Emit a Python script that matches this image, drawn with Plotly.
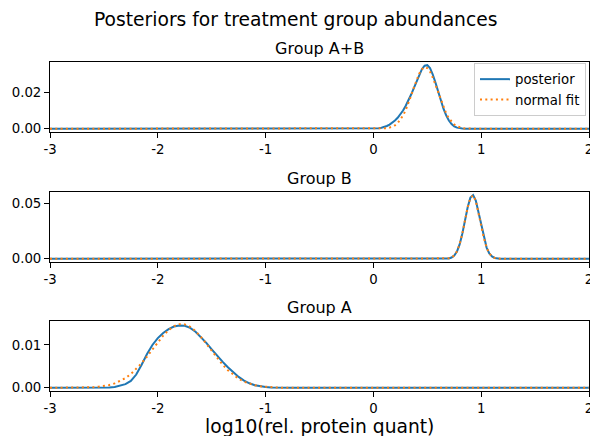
import plotly.graph_objects as go

# ---------------- data ----------------
SUPTITLE = "Posteriors for treatment group abundances"
GROUP_NAMES = ["Group A+B", "Group B", "Group A"]
X_LABEL = "log10(rel. protein quant)"
X_TICKS = [-3, -2, -1, 0, 1, 2]
X_TICK_LABELS = ["-3", "-2", "-1", "0", "1", "2"]
Y_TICKS = [[0.0, 0.02], [0.0, 0.05], [0.0, 0.01]]

AB_X = [-3.0, -0.10, -0.05, 0.000, 0.025, 0.050, 0.075, 0.100, 0.125, 0.150, 0.175,
        0.200, 0.225, 0.250, 0.275, 0.300, 0.325, 0.350, 0.375, 0.400, 0.425,
        0.450, 0.475, 0.500, 0.525, 0.550, 0.575, 0.600, 0.625, 0.650, 0.675,
        0.700, 0.725, 0.750, 0.775, 0.800, 0.825, 0.850, 0.875, 0.900, 0.950,
        1.000, 2.0]
AB_POSTERIOR = [0.0, 0.0, 0.00002, 0.00008, 0.00018, 0.00035, 0.00062, 0.00100, 0.00155,
                0.00230, 0.00330, 0.00460, 0.00610, 0.00790, 0.01010, 0.01270,
                0.01560, 0.01890, 0.02240, 0.02620, 0.02980, 0.03290, 0.03480,
                0.03510, 0.03350, 0.03010, 0.02560, 0.02060, 0.01560, 0.01110,
                0.00740, 0.00455, 0.00260, 0.00135, 0.00065, 0.00029, 0.00012,
                0.00005, 0.00002, 0.00001, 0.0, 0.0, 0.0]
AB_NORMAL_FIT = [0.0, 0.0, 0.000001, 0.000008, 0.000018, 0.000040, 0.000085, 0.000174,
                 0.000341, 0.000637, 0.001138, 0.001939, 0.003162, 0.004924,
                 0.007325, 0.010411, 0.014138, 0.018340, 0.022729, 0.026911,
                 0.030444, 0.032902, 0.033969, 0.033507, 0.031576, 0.028427,
                 0.024453, 0.020094, 0.015776, 0.011832, 0.008480, 0.005804,
                 0.003794, 0.002372, 0.001416, 0.000808, 0.000440, 0.000229,
                 0.000114, 0.000054, 0.000011, 0.000002, 0.0]

B_X = [-3.0, 0.600, 0.625, 0.650, 0.675, 0.700, 0.725, 0.750, 0.775, 0.800, 0.825,
       0.850, 0.875, 0.900, 0.925, 0.950, 0.975, 1.000, 1.025, 1.050, 1.075,
       1.100, 1.125, 1.150, 1.175, 1.200, 1.225, 1.250, 2.0]
B_POSTERIOR = [0.0, 0.0, 0.000005, 0.000025, 0.000110, 0.000380, 0.001130, 0.002920,
               0.006580, 0.012950, 0.022600, 0.034600, 0.046500, 0.054900,
               0.057100, 0.052200, 0.041900, 0.029600, 0.018400, 0.010100,
               0.004900, 0.002100, 0.000800, 0.000270, 0.000080, 0.000020,
               0.000005, 0.000001, 0.0]
B_NORMAL_FIT = [0.0, 0.000002, 0.000008, 0.000034, 0.000125, 0.000408, 0.001177,
                0.002986, 0.006670, 0.013113, 0.022695, 0.034572, 0.046359,
                0.054720, 0.056855, 0.051999, 0.041861, 0.029666, 0.018505,
                0.010161, 0.004911, 0.002090, 0.000783, 0.000258, 0.000075,
                0.000019, 0.000004, 0.000001, 0.0]

A_X = [-3.0, -2.80, -2.75, -2.70, -2.65, -2.60, -2.55, -2.50, -2.45, -2.40, -2.35,
       -2.30, -2.25, -2.20, -2.15, -2.10, -2.05, -2.00, -1.95, -1.90, -1.85,
       -1.80, -1.75, -1.70, -1.65, -1.60, -1.55, -1.50, -1.45, -1.40, -1.35,
       -1.30, -1.25, -1.20, -1.15, -1.10, -1.05, -1.00, -0.95, -0.90, -0.85,
       -0.80, -0.75, 2.0]
A_POSTERIOR = [0.0, 0.0, 0.0, 0.0, 0.0, 0.0, 0.00001, 0.00003, 0.00008, 0.00020, 0.00045,
               0.00085, 0.00160, 0.00310, 0.00540, 0.00790, 0.01000, 0.01160,
               0.01280, 0.01370, 0.01430, 0.01455, 0.01450, 0.01400, 0.01310,
               0.01190, 0.01050, 0.00900, 0.00750, 0.00610, 0.00480, 0.00360,
               0.00255, 0.00170, 0.00105, 0.00062, 0.00035, 0.00019, 0.00010,
               0.00005, 0.00002, 0.00001, 0.0, 0.0]
A_NORMAL_FIT = [0.0, 0.000011, 0.000021, 0.000041, 0.000077, 0.000138, 0.000240,
                0.000404, 0.000654, 0.001025, 0.001553, 0.002269, 0.003202,
                0.004364, 0.005745, 0.007304, 0.008970, 0.010639, 0.012184,
                0.013479, 0.014401, 0.014858, 0.014807, 0.014251, 0.013246,
                0.011892, 0.010309, 0.008633, 0.006982, 0.005453, 0.004113,
                0.002996, 0.002108, 0.001432, 0.000940, 0.000596, 0.000365,
                0.000216, 0.000123, 0.000068, 0.000036, 0.000019, 0.000009, 0.0]

SERIES = [
    (AB_X, AB_POSTERIOR, AB_NORMAL_FIT),
    (B_X, B_POSTERIOR, B_NORMAL_FIT),
    (A_X, A_POSTERIOR, A_NORMAL_FIT),
]

# ---------------- styling / layout ----------------
W, H = 590, 436
ML, MR, MT, MB = 50, 1, 62, 45
PH = H - MT - MB
ROW_PX = [(62, 132), (192, 262), (321, 391)]  # top, bottom in page px
FONT = "DejaVu Sans"
BLUE = "#1f77b4"
ORANGE = "#ff7f0e"

def to_paper(ypx):
    return (H - MB - ypx) / PH

fig = go.Figure()
layout = dict(
    width=W, height=H,
    margin=dict(l=ML, r=MR, t=MT, b=MB, pad=0, autoexpand=False),
    paper_bgcolor="white", plot_bgcolor="white",
    font=dict(family=FONT, size=13.3, color="black"),
    showlegend=True,
    legend=dict(
        x=(586 - ML) / (W - ML - MR), xanchor="right",
        y=to_paper(63), yanchor="top",
        bgcolor="rgba(255,255,255,0.8)", bordercolor="#cccccc", borderwidth=1,
        font=dict(family=FONT, size=13.3, color="black"),
        tracegroupgap=0, itemwidth=30,
    ),
    annotations=[],
)

for i, (name, (xs, post, fit)) in enumerate(zip(GROUP_NAMES, SERIES)):
    sfx = "" if i == 0 else str(i + 1)
    fig.add_trace(go.Scatter(
        x=xs, y=post, mode="lines", name="posterior",
        line=dict(color=BLUE, width=2),
        xaxis="x" + sfx, yaxis="y" + sfx, showlegend=(i == 0)))
    fig.add_trace(go.Scatter(
        x=xs, y=fit, mode="lines", name="normal fit",
        line=dict(color=ORANGE, width=2, dash="2px,3.3px"),
        xaxis="x" + sfx, yaxis="y" + sfx, showlegend=(i == 0)))

    m = max(max(post), max(fit))
    top, bot = ROW_PX[i]
    axis_common = dict(
        showline=True, mirror=True, linecolor="black", linewidth=1,
        showgrid=False, zeroline=False, automargin=False,
        ticks="outside", ticklen=5, tickwidth=1, tickcolor="black",
        tickfont=dict(family=FONT, size=13.3, color="black"),
        ticklabeloverflow="allow",
    )
    layout["xaxis" + sfx] = dict(
        axis_common, domain=[0, 1], range=[-3, 2],
        tickmode="array", tickvals=X_TICKS, ticktext=X_TICK_LABELS,
        anchor="y" + sfx,
    )
    layout["yaxis" + sfx] = dict(
        axis_common, domain=[to_paper(bot), to_paper(top)],
        range=[-0.05 * m, 1.05 * m],
        tickmode="array", tickvals=Y_TICKS[i],
        ticktext=["%.2f" % v for v in Y_TICKS[i]],
        anchor="x" + sfx,
    )
    layout["annotations"].append(dict(
        text=name, xref="paper", x=0.5, xanchor="center",
        yref="paper", y=to_paper(top - 13.7), yanchor="middle",
        showarrow=False, font=dict(family=FONT, size=16, color="black")))

layout["annotations"].append(dict(
    text=SUPTITLE, xref="paper", x=(W / 2 - ML) / (W - ML - MR), xanchor="center",
    yref="paper", y=to_paper(19.5), yanchor="middle",
    showarrow=False, font=dict(family=FONT, size=18.7, color="black")))
layout["annotations"].append(dict(
    text=X_LABEL, xref="paper", x=0.5, xanchor="center",
    yref="paper", y=to_paper(426), yanchor="middle",
    showarrow=False, font=dict(family=FONT, size=18.7, color="black")))

fig.update_layout(**layout)
fig.write_html("out.html",
               config={"displayModeBar": False},
               post_script="document.body.style.margin='0';document.body.style.overflow='hidden';")
